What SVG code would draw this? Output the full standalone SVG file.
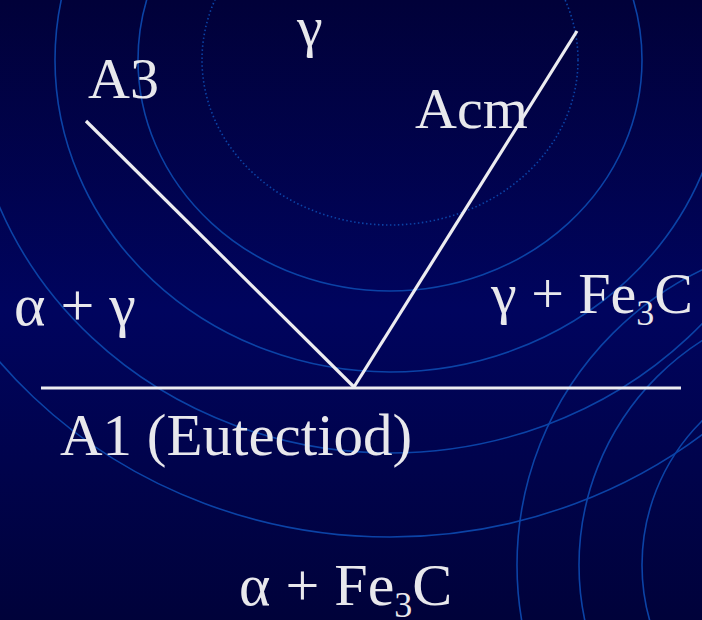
<svg xmlns="http://www.w3.org/2000/svg" width="702" height="620" viewBox="0 0 702 620">
  <defs>
    <linearGradient id="bg" x1="0" y1="0" x2="0" y2="1">
      <stop offset="0" stop-color="#010139"/>
      <stop offset="0.5" stop-color="#00045e"/>
      <stop offset="1" stop-color="#00023a"/>
    </linearGradient>
  </defs>
  <style>
    .ring { fill: none; stroke: #0b43a6; stroke-width: 1.6; }
    .dots { fill: none; stroke: #0b43a6; stroke-width: 1.6; stroke-dasharray: 1.5 2.5; }
    .phase { fill: none; stroke: #ececf0; stroke-width: 3.2; stroke-linecap: butt; }
    .lbl { font-family: "Liberation Serif", "Times New Roman", serif; font-size: 58px; fill: #e8e8ec; }
    .big { font-size: 60px; }
    .mid { font-size: 59px; }
    .sub { font-size: 36px; }
  </style>

  <g id="background">
    <rect x="0" y="0" width="702" height="620" fill="url(#bg)"/>
    <ellipse class="dots" cx="390" cy="60" rx="188" ry="165"/>
    <ellipse class="ring" cx="390" cy="60" rx="252" ry="231"/>
    <ellipse class="ring" cx="390" cy="60" rx="335" ry="312"/>
    <ellipse class="ring" cx="390" cy="60" rx="421" ry="393"/>
    <ellipse class="ring" cx="390" cy="60" rx="504" ry="477"/>
    <circle class="ring" cx="845" cy="565" r="328"/>
    <circle class="ring" cx="845" cy="565" r="266"/>
    <circle class="ring" cx="845" cy="565" r="203"/>
  </g>

  <g id="connectors">
    <line class="phase" x1="86" y1="121" x2="354" y2="387"/>
    <line class="phase" x1="577" y1="31" x2="354" y2="387"/>
    <line class="phase" x1="41" y1="388" x2="681" y2="388"/>
  </g>

  <g id="gamma"><text class="lbl" x="297" y="46">γ</text></g>
  <g id="A3"><text class="lbl" x="88" y="98">A3</text></g>
  <g id="Acm"><text class="lbl" x="415" y="128">Acm</text></g>
  <g id="alpha-gamma"><text class="lbl big" x="14" y="325">α + γ</text></g>
  <g id="gamma-Fe3C"><text class="lbl" x="491" y="313">γ + Fe<tspan class="sub" dy="12">3</tspan><tspan dy="-12">C</tspan></text></g>
  <g id="A1"><text class="lbl mid" x="60" y="455">A1 (Eutectiod)</text></g>
  <g id="alpha-Fe3C"><text class="lbl big" x="239" y="605">α + Fe<tspan class="sub" dy="12">3</tspan><tspan dy="-12">C</tspan></text></g>
</svg>
